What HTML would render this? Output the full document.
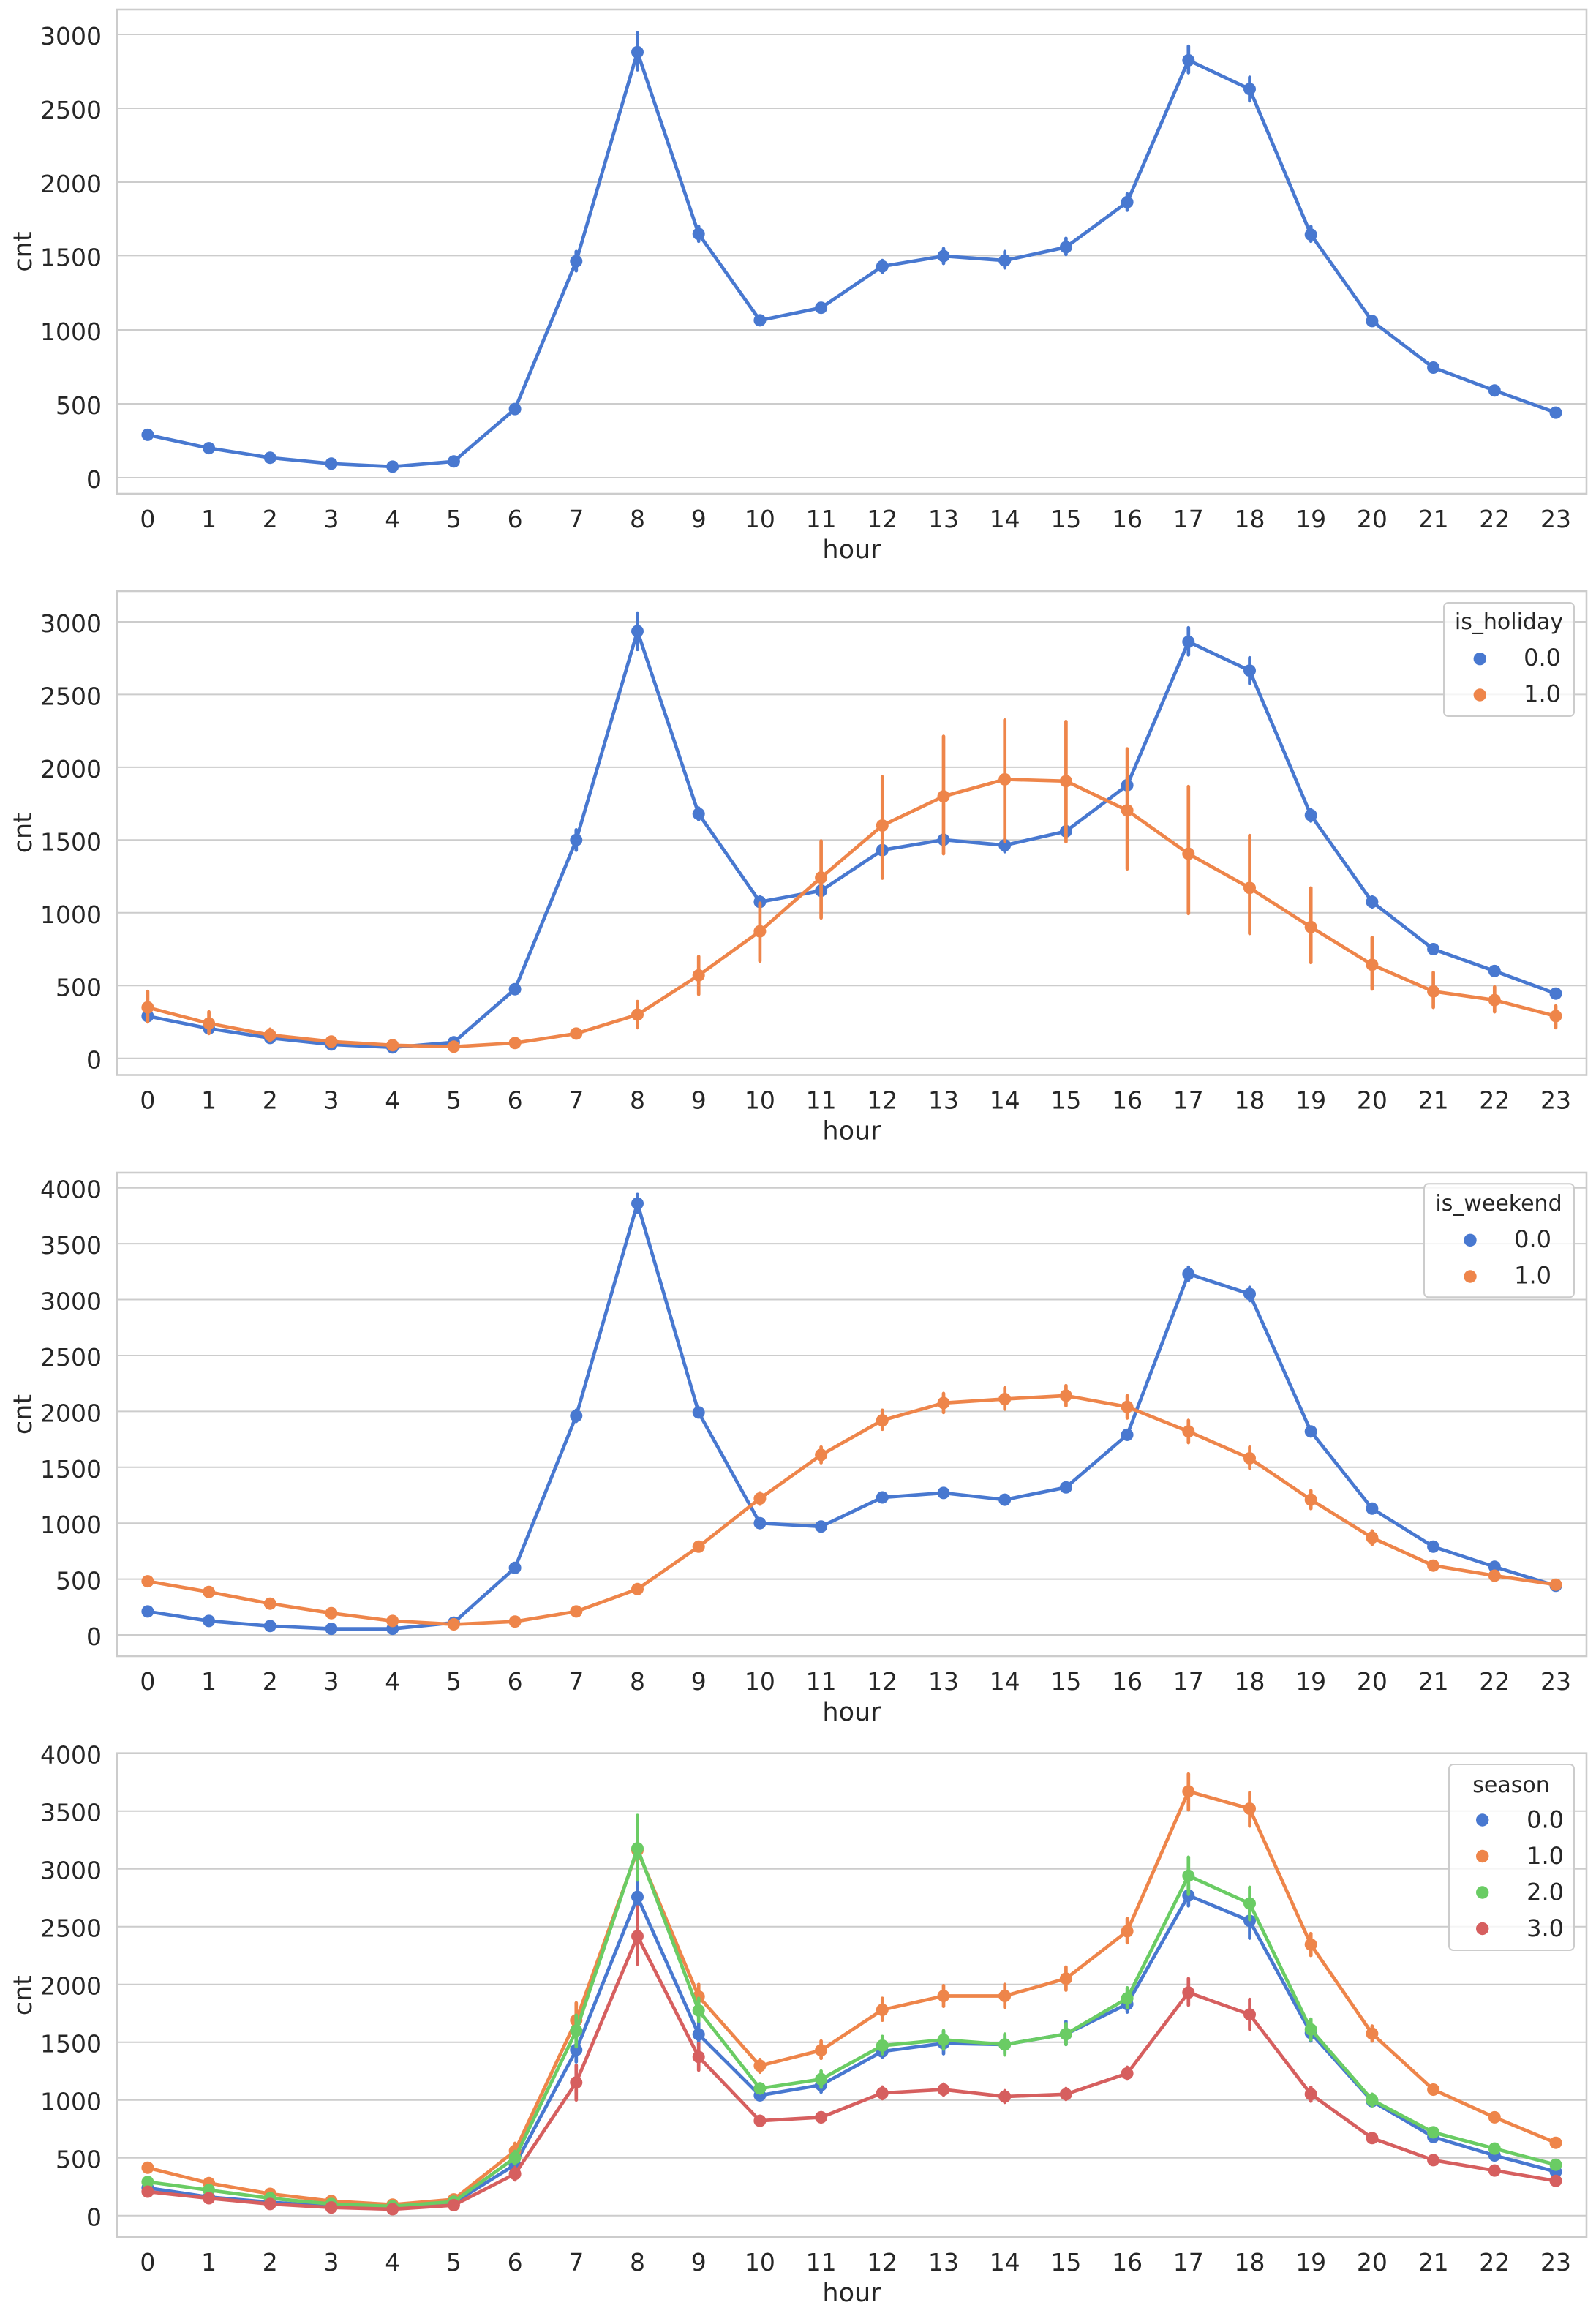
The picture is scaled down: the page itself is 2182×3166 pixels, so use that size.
<!DOCTYPE html>
<html><head><meta charset="utf-8"><style>
html,body{margin:0;padding:0;background:#fff;}
svg{display:block;}
text{font-family:"DejaVu Sans","Liberation Sans",sans-serif;fill:#262626;}
.tk{font-size:33px;}
.yt{font-size:33px;text-anchor:end;}
.xt{font-size:33px;text-anchor:middle;}
.lb{font-size:35px;text-anchor:middle;}
.lt{font-size:30px;text-anchor:middle;}
.ll{font-size:32px;text-anchor:end;}
.grid{stroke:#cccccc;stroke-width:2;fill:none;}
.frame{stroke:#cccccc;stroke-width:2.6;fill:none;}
.ln{fill:none;stroke-width:4.7;stroke-linejoin:round;stroke-linecap:round;}
.eb{fill:none;stroke-width:4.7;stroke-linecap:round;}
.b{stroke:#4878d0;} .o{stroke:#ee854a;} .g{stroke:#6acc64;} .r{stroke:#d65f5f;}
</style></head><body>
<svg width="2182" height="3166" viewBox="0 0 2182 3166" xmlns="http://www.w3.org/2000/svg">
<defs>
<marker id="mb" markerWidth="20" markerHeight="20" refX="10" refY="10" markerUnits="userSpaceOnUse"><circle cx="10" cy="10" r="8.5" fill="#4878d0"/></marker>
<marker id="mo" markerWidth="20" markerHeight="20" refX="10" refY="10" markerUnits="userSpaceOnUse"><circle cx="10" cy="10" r="8.5" fill="#ee854a"/></marker>
<marker id="mg" markerWidth="20" markerHeight="20" refX="10" refY="10" markerUnits="userSpaceOnUse"><circle cx="10" cy="10" r="8.5" fill="#6acc64"/></marker>
<marker id="mr" markerWidth="20" markerHeight="20" refX="10" refY="10" markerUnits="userSpaceOnUse"><circle cx="10" cy="10" r="8.5" fill="#d65f5f"/></marker>
</defs>
<rect width="2182" height="3166" fill="#fff"/>

<!-- ================= SUBPLOT 1 ================= -->
<path class="grid" d="M160 653H2169M160 552H2169M160 451H2169M160 349.4H2169M160 249H2169M160 148H2169M160 47H2169"/>
<g class="yt">
<text x="139" y="667">0</text><text x="139" y="566">500</text><text x="139" y="465">1000</text><text x="139" y="363.4">1500</text><text x="139" y="263">2000</text><text x="139" y="162">2500</text><text x="139" y="61">3000</text>
</g>
<polyline class="ln b" marker-start="url(#mb)" marker-mid="url(#mb)" marker-end="url(#mb)" points="201.9,594.4 285.6,612.6 369.3,625.7 453.0,633.8 536.7,637.9 620.4,630.8 704.1,559.1 787.8,357.1 871.5,71.2 955.2,319.7 1038.9,437.9 1122.6,420.7 1206.3,364.1 1290.0,350.0 1373.7,356.1 1457.4,337.9 1541.1,276.3 1624.8,82.4 1708.5,121.7 1792.2,320.7 1875.9,438.9 1959.6,502.5 2043.3,533.8 2127.0,564.1"/>
<path class="eb b" d="M704.1 564V554M787.8 370.2V343.9M871.5 95.5V45M955.2 329.8V309.6M1038.9 443V432.8M1122.6 426.8V414.6M1206.3 372.2V356.1M1290 360.1V339.9M1373.7 366.2V343.9M1457.4 348V325.8M1541.1 287.4V265.2M1624.8 99.5V63.2M1708.5 137.9V105.6M1792.2 329.8V309.6M1875.9 443V433.8"/>
<rect class="frame" x="160" y="13" width="2009" height="662"/>
<g class="xt">
<text x="201.9" y="721">0</text><text x="285.6" y="721">1</text><text x="369.3" y="721">2</text><text x="453" y="721">3</text><text x="536.7" y="721">4</text><text x="620.4" y="721">5</text><text x="704.1" y="721">6</text><text x="787.8" y="721">7</text><text x="871.5" y="721">8</text><text x="955.2" y="721">9</text><text x="1038.9" y="721">10</text><text x="1122.6" y="721">11</text><text x="1206.3" y="721">12</text><text x="1290" y="721">13</text><text x="1373.7" y="721">14</text><text x="1457.4" y="721">15</text><text x="1541.1" y="721">16</text><text x="1624.8" y="721">17</text><text x="1708.5" y="721">18</text><text x="1792.2" y="721">19</text><text x="1875.9" y="721">20</text><text x="1959.6" y="721">21</text><text x="2043.3" y="721">22</text><text x="2127" y="721">23</text>
</g>
<text class="lb" x="1164.5" y="763">hour</text>
<text class="lb" transform="translate(43,344) rotate(-90)" x="0" y="0">cnt</text>

<!-- ================= SUBPLOT 2 ================= -->
<path class="grid" d="M160 1446.7H2169M160 1347.3H2169M160 1247.8H2169M160 1148.3H2169M160 1048.9H2169M160 949.4H2169M160 850H2169"/>
<g class="yt">
<text x="139" y="1460.7">0</text><text x="139" y="1361.3">500</text><text x="139" y="1261.8">1000</text><text x="139" y="1162.3">1500</text><text x="139" y="1062.9">2000</text><text x="139" y="963.4">2500</text><text x="139" y="864">3000</text>
</g>
<polyline class="ln b" marker-start="url(#mb)" marker-mid="url(#mb)" marker-end="url(#mb)" points="201.9,1389.0 285.6,1405.9 369.3,1418.9 453.0,1427.8 536.7,1431.8 620.4,1424.8 704.1,1352.2 787.8,1148.4 871.5,862.9 955.2,1112.6 1038.9,1232.9 1122.6,1217.6 1206.3,1162.1 1290.0,1148.0 1373.7,1155.5 1457.4,1136.4 1541.1,1073.4 1624.8,877.3 1708.5,916.7 1792.2,1114.4 1875.9,1232.9 1959.6,1297.5 2043.3,1327.4 2127.0,1358.2"/>
<path class="eb b" d="M787.8 1162.3V1134.4M871.5 887.8V838.1M955.2 1120.5V1104.6M1206.3 1168.2V1156.3M1290 1156.3V1140.4M1373.7 1164.3V1146.4M1457.4 1144.4V1128.5M1541.1 1082.7V1062.8M1624.8 895.4V858.2M1708.5 934.6V899.2M1792.2 1122.5V1106.6M1038.9 1240V1226M1875.9 1240V1226"/>
<polyline class="ln o" marker-start="url(#mo)" marker-mid="url(#mo)" marker-end="url(#mo)" points="201.9,1377.1 285.6,1399.0 369.3,1414.9 453.0,1423.8 536.7,1428.8 620.4,1430.8 704.1,1425.8 787.8,1412.9 871.5,1387.0 955.2,1333.3 1038.9,1273.1 1122.6,1199.7 1206.3,1128.5 1290.0,1088.7 1373.7,1065.4 1457.4,1067.8 1541.1,1107.8 1624.8,1167.1 1708.5,1213.8 1792.2,1267.3 1875.9,1318.8 1959.6,1355.2 2043.3,1367.1 2127.0,1389.0"/>
<path class="eb o" d="M201.9 1397V1355.2M285.6 1412.9V1383.1M369.3 1422.8V1406.9M453 1428.8V1418.9M536.7 1432.8V1424.8M620.4 1433.8V1426.8M704.1 1428.8V1422.8M787.8 1418.9V1406.9M871.5 1404.9V1369.1M955.2 1359.2V1307.5M1038.9 1313.8V1234.7M1122.6 1254.8V1149.6M1206.3 1200.5V1062M1290 1167.1V1006.6M1373.7 1150.4V984.3M1457.4 1150.8V986.3M1541.1 1187.7V1023.7M1624.8 1248.8V1075.2M1708.5 1276.1V1142.2M1792.2 1315.8V1213.8M1875.9 1352V1281.6M1959.6 1377.1V1329.4M2043.3 1383.1V1349.2M2127 1404.9V1375.1"/>
<rect class="frame" x="160" y="808" width="2009" height="661.5"/>
<rect x="1974" y="824" width="178" height="155" rx="6" fill="#fff" fill-opacity="0.8" stroke="#cccccc" stroke-width="2"/>
<text class="lt" x="2063" y="860">is_holiday</text>
<circle cx="2023.3" cy="900.7" r="8.7" fill="#4878d0"/>
<circle cx="2023.3" cy="950" r="8.7" fill="#ee854a"/>
<text class="ll" x="2134" y="910">0.0</text>
<text class="ll" x="2134" y="959.5">1.0</text>
<g class="xt">
<text x="201.9" y="1515.5">0</text><text x="285.6" y="1515.5">1</text><text x="369.3" y="1515.5">2</text><text x="453" y="1515.5">3</text><text x="536.7" y="1515.5">4</text><text x="620.4" y="1515.5">5</text><text x="704.1" y="1515.5">6</text><text x="787.8" y="1515.5">7</text><text x="871.5" y="1515.5">8</text><text x="955.2" y="1515.5">9</text><text x="1038.9" y="1515.5">10</text><text x="1122.6" y="1515.5">11</text><text x="1206.3" y="1515.5">12</text><text x="1290" y="1515.5">13</text><text x="1373.7" y="1515.5">14</text><text x="1457.4" y="1515.5">15</text><text x="1541.1" y="1515.5">16</text><text x="1624.8" y="1515.5">17</text><text x="1708.5" y="1515.5">18</text><text x="1792.2" y="1515.5">19</text><text x="1875.9" y="1515.5">20</text><text x="1959.6" y="1515.5">21</text><text x="2043.3" y="1515.5">22</text><text x="2127" y="1515.5">23</text>
</g>
<text class="lb" x="1164.5" y="1557.5">hour</text>
<text class="lb" transform="translate(43,1138.7) rotate(-90)" x="0" y="0">cnt</text>

<!-- ================= SUBPLOT 3 ================= -->
<path class="grid" d="M160 2235H2169M160 2158.6H2169M160 2082.2H2169M160 2005.8H2169M160 1929.4H2169M160 1853H2169M160 1776.5H2169M160 1700.1H2169M160 1623.7H2169"/>
<g class="yt">
<text x="139" y="2249">0</text><text x="139" y="2172.6">500</text><text x="139" y="2096.2">1000</text><text x="139" y="2019.8">1500</text><text x="139" y="1943.4">2000</text><text x="139" y="1867">2500</text><text x="139" y="1790.5">3000</text><text x="139" y="1714.1">3500</text><text x="139" y="1637.7">4000</text>
</g>
<polyline class="ln b" marker-start="url(#mb)" marker-mid="url(#mb)" marker-end="url(#mb)" points="201.9,2202.9 285.6,2215.9 369.3,2222.8 453.0,2226.6 536.7,2226.6 620.4,2218.2 704.1,2143.3 787.8,1935.5 871.5,1645.1 955.2,1930.9 1038.9,2082.2 1122.6,2086.8 1206.3,2047.0 1290.0,2040.9 1373.7,2050.1 1457.4,2033.3 1541.1,1961.4 1624.8,1741.4 1708.5,1768.9 1792.2,1956.8 1875.9,2062.3 1959.6,2114.3 2043.3,2141.8 2127.0,2167.8"/>
<path class="eb b" d="M787.8 1943.1V1927.8M871.5 1657.3V1632.8M955.2 1936.9V1924.8M1541.1 1967.5V1955.3M1624.8 1750.5V1732.2M1708.5 1778V1759.7M1792.2 1963V1950.7"/>
<polyline class="ln o" marker-start="url(#mo)" marker-mid="url(#mo)" marker-end="url(#mo)" points="201.9,2161.6 285.6,2176.2 369.3,2192.2 453.0,2205.2 536.7,2215.9 620.4,2220.5 704.1,2216.7 787.8,2202.9 871.5,2172.3 955.2,2114.3 1038.9,2048.5 1122.6,1988.9 1206.3,1941.6 1290.0,1917.9 1373.7,1912.5 1457.4,1907.9 1541.1,1923.2 1624.8,1956.8 1708.5,1993.5 1792.2,2050.1 1875.9,2102.0 1959.6,2140.2 2043.3,2154.0 2127.0,2166.2"/>
<path class="eb o" d="M1038.9 2056.2V2040.9M1122.6 1999.6V1978.2M1206.3 1953.8V1927.8M1290 1930.9V1904.9M1373.7 1926.3V1897.2M1457.4 1921.7V1894.2M1541.1 1938.5V1907.9M1624.8 1972.1V1941.6M1708.5 2007.3V1978.2M1792.2 2062.3V2037.8M1875.9 2111.2V2092.9M1959.6 2144.8V2135.7M871.5 2177V2168M955.2 2119V2110"/>
<rect class="frame" x="160" y="1603" width="2009" height="661"/>
<rect x="1947" y="1618.3" width="205" height="155" rx="6" fill="#fff" fill-opacity="0.8" stroke="#cccccc" stroke-width="2"/>
<text class="lt" x="2049" y="1655">is_weekend</text>
<circle cx="2010" cy="1695.3" r="8.7" fill="#4878d0"/>
<circle cx="2010" cy="1745" r="8.7" fill="#ee854a"/>
<text class="ll" x="2121" y="1705">0.0</text>
<text class="ll" x="2121" y="1754.5">1.0</text>
<g class="xt">
<text x="201.9" y="2310">0</text><text x="285.6" y="2310">1</text><text x="369.3" y="2310">2</text><text x="453" y="2310">3</text><text x="536.7" y="2310">4</text><text x="620.4" y="2310">5</text><text x="704.1" y="2310">6</text><text x="787.8" y="2310">7</text><text x="871.5" y="2310">8</text><text x="955.2" y="2310">9</text><text x="1038.9" y="2310">10</text><text x="1122.6" y="2310">11</text><text x="1206.3" y="2310">12</text><text x="1290" y="2310">13</text><text x="1373.7" y="2310">14</text><text x="1457.4" y="2310">15</text><text x="1541.1" y="2310">16</text><text x="1624.8" y="2310">17</text><text x="1708.5" y="2310">18</text><text x="1792.2" y="2310">19</text><text x="1875.9" y="2310">20</text><text x="1959.6" y="2310">21</text><text x="2043.3" y="2310">22</text><text x="2127" y="2310">23</text>
</g>
<text class="lb" x="1164.5" y="2352">hour</text>
<text class="lb" transform="translate(43,1933.5) rotate(-90)" x="0" y="0">cnt</text>

<!-- ================= SUBPLOT 4 ================= -->
<path class="grid" d="M160 3028.7H2169M160 2949.7H2169M160 2870.7H2169M160 2791.7H2169M160 2712.7H2169M160 2633.7H2169M160 2554.7H2169M160 2475.7H2169"/>
<g class="yt">
<text x="139" y="3042.7">0</text><text x="139" y="2963.7">500</text><text x="139" y="2884.7">1000</text><text x="139" y="2805.7">1500</text><text x="139" y="2726.7">2000</text><text x="139" y="2647.7">2500</text><text x="139" y="2568.7">3000</text><text x="139" y="2489.7">3500</text><text x="139" y="2410.7">4000</text>
</g>
<polyline class="ln b" marker-start="url(#mb)" marker-mid="url(#mb)" marker-end="url(#mb)" points="201.9,2990.8 285.6,3003.4 369.3,3010.5 453.0,3016.1 536.7,3018.4 620.4,3011.3 704.1,2959.2 787.8,2802.3 871.5,2593.1 955.2,2781.0 1038.9,2864.4 1122.6,2850.2 1206.3,2804.3 1290.0,2793.3 1373.7,2794.9 1457.4,2780.6 1541.1,2739.6 1624.8,2591.1 1708.5,2625.8 1792.2,2779.1 1875.9,2872.3 1959.6,2921.3 2043.3,2946.5 2127.0,2968.7"/>
<path class="eb b" d="M787.8 2818.6V2785.4M871.5 2617.9V2570.5M955.2 2796.4V2764.8M1122.6 2860V2840M1206.3 2812V2796M1290 2807.5V2777.5M1373.7 2807.5V2782.2M1457.4 2794.9V2763.3M1541.1 2750.6V2726.9M1624.8 2605.3V2576.8M1708.5 2649.5V2603.7M1792.2 2790.1V2768"/>
<polyline class="ln o" marker-start="url(#mo)" marker-mid="url(#mo)" marker-end="url(#mo)" points="201.9,2963.3 285.6,2984.3 369.3,2999.0 453.0,3008.9 536.7,3013.7 620.4,3006.6 704.1,2940.2 787.8,2761.7 871.5,2529.4 955.2,2729.3 1038.9,2823.9 1122.6,2802.8 1206.3,2747.5 1290.0,2728.5 1373.7,2728.5 1457.4,2704.8 1541.1,2640.0 1624.8,2448.9 1708.5,2472.5 1792.2,2658.3 1875.9,2780.0 1959.6,2856.5 2043.3,2894.4 2127.0,2929.2"/>
<path class="eb o" d="M704.1 2950V2930M787.8 2783.8V2738M871.5 2567.3V2488.3M955.2 2744.3V2712.7M1038.9 2832.8V2815.4M1122.6 2813.8V2790.1M1206.3 2761.7V2731.7M1290 2742.7V2714.3M1373.7 2744.3V2712.7M1457.4 2720.6V2689M1541.1 2655.8V2622.6M1624.8 2474.1V2425.1M1708.5 2496.2V2450.4M1792.2 2673.2V2643.2M1875.9 2790.1V2769.6M1959.6 2862.8V2850.2M2043.3 2899V2889.7"/>
<polyline class="ln g" marker-start="url(#mg)" marker-mid="url(#mg)" marker-end="url(#mg)" points="201.9,2982.7 285.6,2993.9 369.3,3005.0 453.0,3012.9 536.7,3016.1 620.4,3009.7 704.1,2949.7 787.8,2775.9 871.5,2526.7 955.2,2748.3 1038.9,2854.9 1122.6,2842.3 1206.3,2796.4 1290.0,2788.5 1373.7,2794.9 1457.4,2780.6 1541.1,2731.7 1624.8,2564.2 1708.5,2602.1 1792.2,2774.3 1875.9,2870.7 1959.6,2914.9 2043.3,2937.1 2127.0,2959.2"/>
<path class="eb g" d="M704.1 2958V2941M787.8 2798V2754.9M871.5 2570V2481.7M955.2 2763.3V2731.7M1038.9 2861.2V2848.6M1122.6 2853.3V2831.2M1206.3 2807.5V2783.8M1290 2801.2V2775.9M1373.7 2809.1V2780.6M1457.4 2794.9V2766.4M1541.1 2744.3V2717.4M1624.8 2589.5V2538.9M1708.5 2624.2V2580M1792.2 2788.5V2760.1M1875.9 2878.6V2862.8"/>
<polyline class="ln r" marker-start="url(#mr)" marker-mid="url(#mr)" marker-end="url(#mr)" points="201.9,2996.0 285.6,3005.0 369.3,3012.9 453.0,3017.6 536.7,3020.0 620.4,3014.5 704.1,2971.8 787.8,2846.7 871.5,2646.7 955.2,2811.8 1038.9,2899.1 1122.6,2894.4 1206.3,2861.2 1290.0,2856.5 1373.7,2866.0 1457.4,2862.8 1541.1,2834.4 1624.8,2723.8 1708.5,2753.8 1792.2,2862.8 1875.9,2922.8 1959.6,2952.9 2043.3,2967.1 2127.0,2981.3"/>
<path class="eb r" d="M704.1 2980V2963M787.8 2870.7V2823.3M871.5 2685V2606.7M955.2 2830V2793.3M1038.9 2905V2893M1122.6 2901V2888M1206.3 2869V2853M1290 2864V2849M1373.7 2874V2858M1457.4 2870V2855M1541.1 2842V2826M1624.8 2741.1V2704.8M1708.5 2774.3V2733.2M1792.2 2872.3V2853.3M1875.9 2928V2917"/>
<rect class="frame" x="160" y="2396.7" width="2009" height="661.6"/>
<rect x="1981" y="2412" width="171" height="254" rx="6" fill="#fff" fill-opacity="0.8" stroke="#cccccc" stroke-width="2"/>
<text class="lt" x="2066" y="2450">season</text>
<circle cx="2026.7" cy="2488" r="8.7" fill="#4878d0"/>
<circle cx="2026.7" cy="2537.5" r="8.7" fill="#ee854a"/>
<circle cx="2026.7" cy="2587" r="8.7" fill="#6acc64"/>
<circle cx="2026.7" cy="2636.5" r="8.7" fill="#d65f5f"/>
<text class="ll" x="2138" y="2498.3">0.0</text>
<text class="ll" x="2138" y="2548">1.0</text>
<text class="ll" x="2138" y="2597.5">2.0</text>
<text class="ll" x="2138" y="2647">3.0</text>
<g class="xt">
<text x="201.9" y="3104">0</text><text x="285.6" y="3104">1</text><text x="369.3" y="3104">2</text><text x="453" y="3104">3</text><text x="536.7" y="3104">4</text><text x="620.4" y="3104">5</text><text x="704.1" y="3104">6</text><text x="787.8" y="3104">7</text><text x="871.5" y="3104">8</text><text x="955.2" y="3104">9</text><text x="1038.9" y="3104">10</text><text x="1122.6" y="3104">11</text><text x="1206.3" y="3104">12</text><text x="1290" y="3104">13</text><text x="1373.7" y="3104">14</text><text x="1457.4" y="3104">15</text><text x="1541.1" y="3104">16</text><text x="1624.8" y="3104">17</text><text x="1708.5" y="3104">18</text><text x="1792.2" y="3104">19</text><text x="1875.9" y="3104">20</text><text x="1959.6" y="3104">21</text><text x="2043.3" y="3104">22</text><text x="2127" y="3104">23</text>
</g>
<text class="lb" x="1164.5" y="3146">hour</text>
<text class="lb" transform="translate(43,2727.7) rotate(-90)" x="0" y="0">cnt</text>
</svg>
</body></html>
